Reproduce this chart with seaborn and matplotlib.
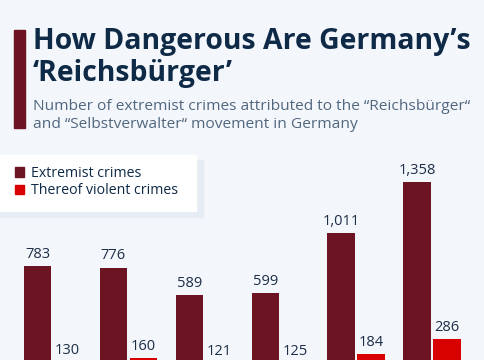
import matplotlib
matplotlib.use("Agg")
import matplotlib.pyplot as plt
import seaborn as sns
import pandas as pd
from matplotlib.patches import Rectangle

years = ["2017", "2018", "2019", "2020", "2021", "2022"]
extremist = [783, 776, 589, 599, 1011, 1358]
violent = [130, 160, 121, 125, 184, 286]
series_names = ["Extremist crimes", "Thereof violent crimes"]
colors = ["#6d1423", "#d90000"]

BG = "#f3f6fa"
NAVY = "#0e2a47"
SUB = "#51677f"

sns.set_theme(style="white")
plt.rcParams["font.family"] = ["Open Sans", "DejaVu Sans"]

W, H = 485, 360
fig = plt.figure(figsize=(W / 100, H / 100), dpi=100)
fig.patch.set_facecolor(BG)

def fx(x):
    return x / W

def fy(y):
    return 1 - y / H

df = pd.DataFrame({
    "year": years * 2,
    "value": extremist + violent,
    "series": [series_names[0]] * len(years) + [series_names[1]] * len(years),
})

# axes: baseline at y=381 px (below the visible canvas, as in the cropped reference)
ax_left, ax_right = 14.5, 470.0
ax_top, ax_bottom = 150.0, 381.2
ax = fig.add_axes([fx(ax_left), fy(ax_bottom), fx(ax_right - ax_left), (ax_bottom - ax_top) / H])
ax.set_facecolor(BG)
sns.barplot(data=df, x="year", y="value", hue="series", palette=colors,
            width=0.79, gap=0.09, dodge=True, legend=False, ax=ax,
            saturation=1, edgecolor="none")
ax.set_xlim(-0.5, 5.5)
ax.set_ylim(0, (ax_bottom - ax_top) / 0.1465)
for c in ax.containers:
    ax.bar_label(c, labels=[f"{v:,.0f}" for v in c.datavalues], padding=3,
                 fontsize=10.5, color="#1d2e48")
ax.set_xlabel("")
ax.set_ylabel("")
ax.set_yticks([])
ax.set_xticklabels([])
ax.tick_params(axis="x", length=0)
for s in ax.spines.values():
    s.set_visible(False)

# accent bar
fig.patches.append(Rectangle((fx(14.5), fy(128)), fx(10.5), (128 - 29.5) / H,
                             transform=fig.transFigure, color="#6d1423", zorder=5))

# title & subtitle
fig.text(fx(33), fy(49.5), "How Dangerous Are Germany’s", fontsize=20.4,
         fontweight="bold", color=NAVY, va="baseline", ha="left")
fig.text(fx(33), fy(81), "‘Reichsbürger’", fontsize=20.4,
         fontweight="bold", color=NAVY, va="baseline", ha="left")
fig.text(fx(33), fy(110), "Number of extremist crimes attributed to the “Reichsbürger“",
         fontsize=11.15, color=SUB, va="baseline", ha="left")
fig.text(fx(33), fy(128), "and “Selbstverwalter“ movement in Germany",
         fontsize=11.15, color=SUB, va="baseline", ha="left")

# legend box with soft shadow
fig.patches.append(Rectangle((fx(0), fy(217)), fx(203), (217 - 160) / H,
                             transform=fig.transFigure, color="#e6ecf3", zorder=3))
fig.patches.append(Rectangle((fx(0), fy(211)), fx(196), (211 - 155) / H,
                             transform=fig.transFigure, color="white", zorder=4))
for i, (name, col) in enumerate(zip(series_names, colors)):
    yc = 172 + i * 17.7
    fig.patches.append(Rectangle((fx(15), fy(yc + 4.6)), fx(9.2), 9.2 / H,
                                 transform=fig.transFigure, color=col, zorder=5))
    fig.text(fx(31), fy(yc + 4.8), name, fontsize=10.2, color=NAVY, va="baseline",
             ha="left", zorder=6)

fig.savefig("out.png", dpi=100, facecolor=BG)
